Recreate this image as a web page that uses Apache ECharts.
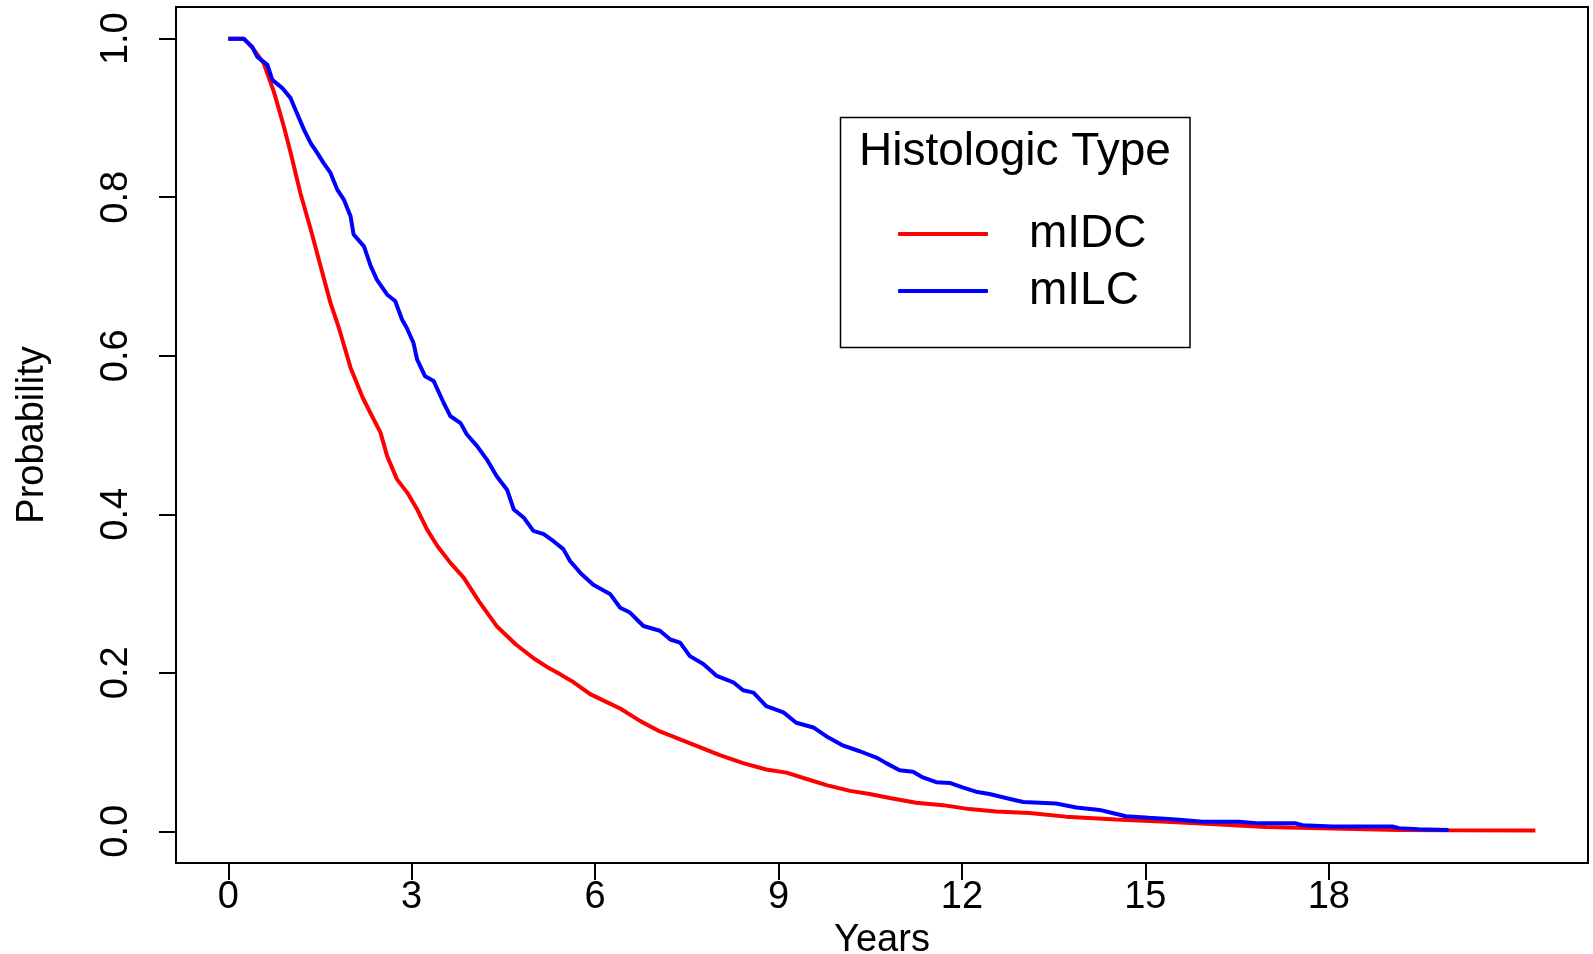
<!DOCTYPE html>
<html>
<head>
<meta charset="utf-8">
<script src="https://cdn.jsdelivr.net/npm/echarts@6/dist/echarts.min.js"></script>
<style>
  html, body { margin: 0; padding: 0; background: #fff; }
  #chart { width: 1593px; height: 954px; }
</style>
</head>
<body>
<div id="chart"></div>
<script>
// Kaplan-Meier style curves
const seriesNames = ['mIDC', 'mILC']
const xTicks = [0, 3, 6, 9, 12, 15, 18]
const yTicks = [0, 0.2, 0.4, 0.6, 0.8, 1.0]

const idcYears = [0, 0.26, 0.42, 0.58, 0.75, 0.91, 1.02, 1.18, 1.35, 1.51, 1.67, 1.81, 2.0, 2.2, 2.35, 2.49, 2.6, 2.76, 2.93, 3.09, 3.25, 3.42, 3.63, 3.85, 4.1, 4.4, 4.7, 5.0, 5.2, 5.43, 5.65, 5.92, 6.19, 6.41, 6.74, 7.06, 7.39, 7.72, 8.04, 8.42, 8.8, 9.13, 9.46, 9.8, 10.17, 10.49, 10.82, 11.25, 11.69, 12.12, 12.56, 13.1, 13.7, 14.52, 15.34, 16.15, 16.97, 18.06, 19.15, 19.96, 21.38]
const idcProb = [1.0, 1.0, 0.986, 0.969, 0.932, 0.889, 0.856, 0.805, 0.759, 0.713, 0.667, 0.635, 0.585, 0.547, 0.524, 0.503, 0.473, 0.444, 0.427, 0.406, 0.381, 0.36, 0.339, 0.32, 0.29, 0.258, 0.236, 0.218, 0.208, 0.198, 0.188, 0.173, 0.163, 0.155, 0.139, 0.126, 0.116, 0.106, 0.096, 0.086, 0.078, 0.074, 0.066, 0.058, 0.051, 0.047, 0.042, 0.036, 0.033, 0.028, 0.025, 0.023, 0.0185, 0.015, 0.012, 0.009, 0.0055, 0.0034, 0.0017, 0.0013, 0.001]

const ilcYears = [0, 0.25, 0.39, 0.475, 0.64, 0.72, 0.88, 1.02, 1.1, 1.24, 1.35, 1.455, 1.56, 1.67, 1.78, 1.89, 2.0, 2.05, 2.22, 2.33, 2.43, 2.6, 2.73, 2.84, 2.92, 3.03, 3.09, 3.22, 3.36, 3.52, 3.63, 3.8, 3.9, 4.07, 4.23, 4.39, 4.56, 4.67, 4.83, 4.99, 5.16, 5.32, 5.48, 5.59, 5.76, 5.97, 6.25, 6.41, 6.57, 6.79, 7.06, 7.23, 7.39, 7.55, 7.77, 7.99, 8.26, 8.42, 8.59, 8.8, 9.08, 9.29, 9.57, 9.78, 10.06, 10.33, 10.6, 10.76, 10.98, 11.2, 11.36, 11.58, 11.8, 12.02, 12.23, 12.45, 12.72, 13.0, 13.27, 13.54, 13.87, 14.25, 14.41, 14.68, 15.06, 15.5, 15.94, 16.53, 16.86, 17.46, 17.57, 18.06, 19.04, 19.15, 19.47, 19.96]
const ilcProb = [1.0, 1.0, 0.99, 0.977, 0.967, 0.948, 0.938, 0.925, 0.91, 0.885, 0.868, 0.856, 0.843, 0.831, 0.81, 0.797, 0.776, 0.753, 0.738, 0.713, 0.696, 0.677, 0.669, 0.646, 0.635, 0.616, 0.595, 0.574, 0.568, 0.541, 0.524, 0.515, 0.501, 0.486, 0.469, 0.448, 0.431, 0.406, 0.396, 0.379, 0.375, 0.366, 0.356, 0.341, 0.326, 0.311, 0.299, 0.282, 0.276, 0.259, 0.253, 0.242, 0.238, 0.221, 0.211, 0.196, 0.188, 0.178, 0.175, 0.158, 0.15, 0.137, 0.131, 0.12, 0.108, 0.101, 0.093, 0.086, 0.077, 0.075, 0.068, 0.062, 0.061, 0.055, 0.05, 0.047, 0.042, 0.037, 0.036, 0.035, 0.03, 0.027, 0.024, 0.019, 0.017, 0.015, 0.012, 0.012, 0.01, 0.01, 0.0076, 0.006, 0.006, 0.004, 0.0025, 0.0017]

const zip = (xs, ys) => xs.map((x, i) => [x, ys[i]])

const font = '"Liberation Sans", Arial, Helvetica, sans-serif'
const chart = echarts.init(document.getElementById('chart'))

const option = {
  animation: false,
  backgroundColor: '#fff',
  textStyle: { fontFamily: font, color: '#000' },
  grid: {
    left: 176,
    right: 5,
    top: 7,
    bottom: 91,
    outerBoundsMode: 'none',
    show: true,
    borderColor: '#000',
    borderWidth: 2
  },
  legend: {
    orient: 'vertical',
    left: 893,
    top: 206,
    itemWidth: 90,
    itemHeight: 4,
    itemGap: 11,
    icon: 'roundRect',
    data: seriesNames,
    textStyle: {
      fontFamily: font,
      fontSize: 46,
      color: '#000',
      padding: [0, 0, 0, 36]
    }
  },
  graphic: [
    {
      type: 'rect',
      shape: { x: 840.5, y: 117.5, width: 349.5, height: 230 },
      style: { fill: 'none', stroke: '#000', lineWidth: 1.5 }
    },
    {
      type: 'text',
      x: 1015,
      y: 152,
      style: {
        text: 'Histologic Type',
        font: '46px ' + font,
        fill: '#000',
        textAlign: 'center',
        textVerticalAlign: 'middle'
      }
    }
  ],
  xAxis: {
    type: 'value',
    min: -0.855,
    max: 22.24,
    name: 'Years',
    nameLocation: 'middle',
    nameGap: 50,
    nameTextStyle: { fontFamily: font, fontSize: 38, color: '#000' },
    splitLine: { show: false },
    axisLine: { show: true, onZero: false, lineStyle: { color: '#000', width: 2 } },
    axisTick: { show: true, length: 17, customValues: xTicks, lineStyle: { color: '#000', width: 2 } },
    axisLabel: {
      customValues: xTicks,
      margin: 16,
      fontFamily: font,
      fontSize: 38,
      color: '#000'
    }
  },
  yAxis: {
    type: 'value',
    min: -0.04,
    max: 1.04,
    name: 'Probability',
    nameLocation: 'middle',
    nameRotate: 90,
    nameGap: 124,
    nameTextStyle: { fontFamily: font, fontSize: 38, color: '#000' },
    splitLine: { show: false },
    axisLine: { show: true, onZero: false, lineStyle: { color: '#000', width: 2 } },
    axisTick: { show: true, length: 17, customValues: yTicks, lineStyle: { color: '#000', width: 2 } },
    axisLabel: {
      customValues: yTicks,
      rotate: 90,
      margin: 40,
      fontFamily: font,
      fontSize: 38,
      color: '#000',
      formatter: v => v.toFixed(1)
    }
  },
  series: [
    {
      name: seriesNames[0],
      type: 'line',
      data: zip(idcYears, idcProb),
      showSymbol: false,
      symbol: 'none',
      color: '#ff0000',
      lineStyle: { color: '#ff0000', width: 4 }
    },
    {
      name: seriesNames[1],
      type: 'line',
      data: zip(ilcYears, ilcProb),
      showSymbol: false,
      symbol: 'none',
      color: '#0000ff',
      lineStyle: { color: '#0000ff', width: 4 }
    }
  ]
}

chart.setOption(option)
</script>
</body>
</html>
